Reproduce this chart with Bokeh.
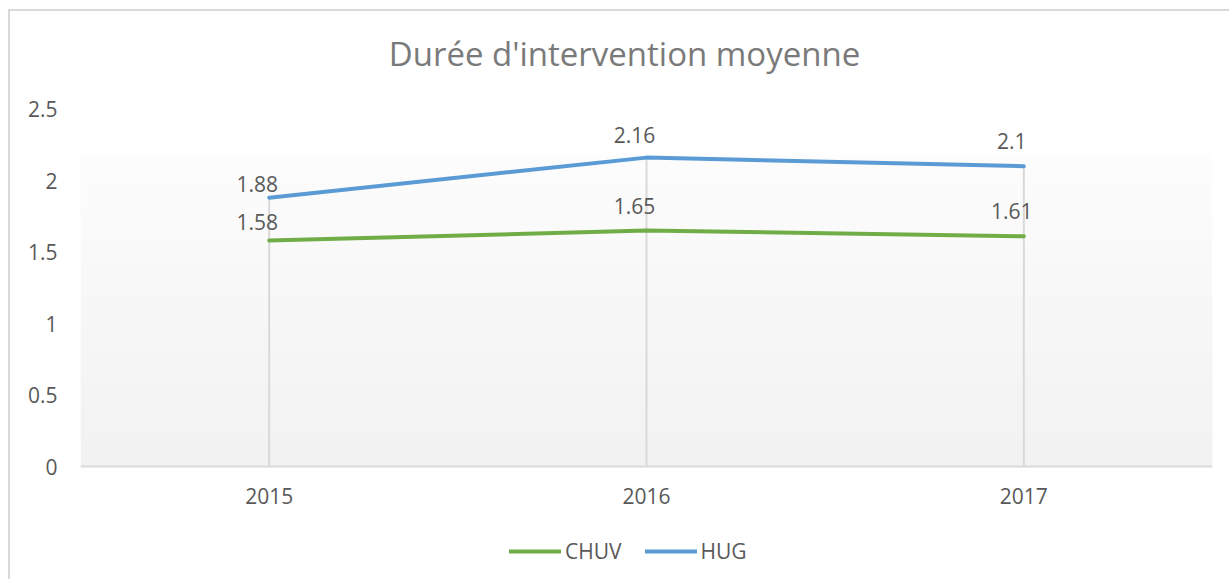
import numpy as np
from bokeh.plotting import figure
from bokeh.models import FactorRange, Range1d, Legend, LegendItem, Label, ColumnDataSource
from bokeh.embed import file_html
from bokeh.resources import INLINE
from bokeh.core.properties import value

# ---- data ----
years = ["2015", "2016", "2017"]
chuv = [1.58, 1.65, 1.61]
hug = [1.88, 2.16, 2.10]
chuv_labels = ["1.58", "1.65", "1.61"]
hug_labels = ["1.88", "2.16", "2.1"]
y_ticks = [0, 0.5, 1, 1.5, 2, 2.5]
y_tick_labels = ["0", "0.5", "1", "1.5", "2", "2.5"]
title_text = "Durée d'intervention moyenne"
series_names = ["CHUV", "HUG"]

# ---- style ----
FONT = "Open Sans"
TXT = "#595959"
GREEN = "#70ad47"
BLUE = "#5b9bd5"
GRID = "#d9d9d9"
FS = "21px"

# frame covers the whole canvas height; 0..2.5 occupies the plot area
PX_PER_UNIT = 143.0
Y_TOP = (466 - 11) / PX_PER_UNIT
Y_BOTTOM = -(581 - 466) / PX_PER_UNIT

p = figure(width=1221, height=570, title=None,
           x_range=FactorRange(*years), y_range=Range1d(Y_BOTTOM, Y_TOP),
           output_backend="svg", toolbar_location=None,
           min_border_left=70, min_border_right=19,
           min_border_top=0, min_border_bottom=0)
p.styles = {"position": "relative", "left": "8px", "top": "9px",
            "border-left": "2px solid #d9d9d9", "border-top": "2px solid #d9d9d9"}
p.outline_line_color = None
p.background_fill_color = "white"
p.border_fill_color = "white"
p.xgrid.grid_line_color = None
p.ygrid.grid_line_color = None

# plot-area gradient (white -> light grey)
n = 64
shade = np.linspace(242, 253, n).astype(np.uint8)
img = np.zeros((n, 1), dtype=np.uint32)
view = img.view(dtype=np.uint8).reshape((n, 1, 4))
view[:, 0, 0] = shade
view[:, 0, 1] = shade
view[:, 0, 2] = shade
view[:, 0, 3] = 255
p.image_rgba(image=[img], x=0, y=0, dw=len(years), dh=2.175)

# drop lines
tops = [max(a, b) for a, b in zip(chuv, hug)]
p.segment(x0=years, y0=[0] * len(years), x1=years, y1=tops,
          line_color=GRID, line_width=2)

l_chuv = p.line(years, chuv, line_color=GREEN, line_width=4,
                line_join="round", line_cap="round")
l_hug = p.line(years, hug, line_color=BLUE, line_width=4,
               line_join="round", line_cap="round")

# data labels
lab_src = ColumnDataSource(dict(
    x=years + years,
    y=chuv + hug,
    t=chuv_labels + hug_labels,
    dy=[-19, -25, -25, -14, -23, -25],
))
p.text(x="x", y="y", text="t", y_offset="dy", x_offset=-12, source=lab_src,
       text_align="center", text_baseline="middle",
       text_font=value(FONT), text_font_size=FS, text_color=TXT)

# chart title
p.add_layout(Label(x=(624 - 80) / 377.33, y=(466 - 53) / PX_PER_UNIT,
                   text=title_text, text_align="center",
                   text_baseline="alphabetic", text_font=FONT,
                   text_font_size="33px", text_color="#7a7a7a"))

# axes
p.yaxis.ticker = y_ticks
p.yaxis.major_label_overrides = {t: s for t, s in zip(y_ticks, y_tick_labels)}
p.yaxis.axis_line_color = None
p.yaxis.major_tick_line_color = None
p.yaxis.minor_tick_line_color = None
p.yaxis.major_tick_out = 0
p.yaxis.major_tick_in = 0
p.yaxis.major_label_standoff = 23
p.yaxis.major_label_text_font = FONT
p.yaxis.major_label_text_font_size = FS
p.yaxis.major_label_text_color = TXT

p.xaxis.fixed_location = 0
p.xaxis.axis_line_color = GRID
p.xaxis.axis_line_width = 2
p.xaxis.major_tick_line_color = None
p.xaxis.minor_tick_line_color = None
p.xaxis.major_tick_out = 0
p.xaxis.major_tick_in = 0
p.xaxis.major_label_standoff = 21
p.xaxis.major_label_text_font = FONT
p.xaxis.major_label_text_font_size = FS
p.xaxis.major_label_text_color = TXT

legend = Legend(items=[LegendItem(label=series_names[0], renderers=[l_chuv]),
                       LegendItem(label=series_names[1], renderers=[l_hug])],
                orientation="horizontal", location=(429, 16),
                glyph_width=52, glyph_height=20, label_standoff=4, spacing=23,
                padding=0, margin=0, border_line_color=None,
                background_fill_alpha=0,
                label_text_font=FONT, label_text_font_size=FS,
                label_text_color=TXT)
p.add_layout(legend)

open("out.html", "w").write(file_html(p, INLINE))
